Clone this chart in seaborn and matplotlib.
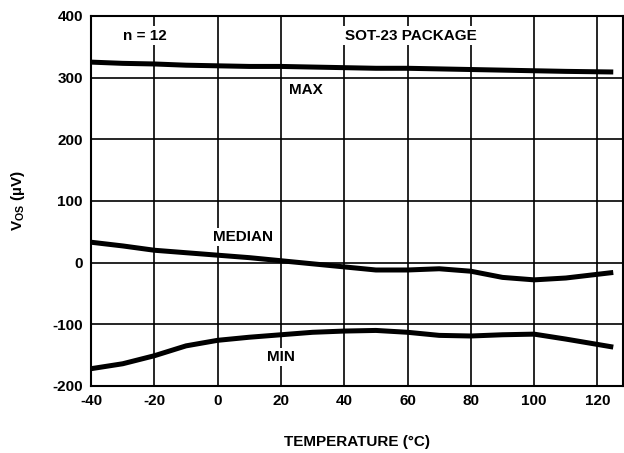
import matplotlib
matplotlib.use("Agg")
import matplotlib.pyplot as plt
import seaborn as sns
import pandas as pd

temps = [-40, -30, -20, -10, 0, 10, 20, 30, 40, 50, 60, 70, 80, 90, 100, 110, 125]
vos_max = [325, 323, 322, 320, 319, 318, 318, 317, 316, 315, 315, 314, 313, 312, 311, 310, 309]
vos_median = [33, 27, 20, 16, 12, 8, 3, -2, -7, -12, -12, -10, -14, -24, -28, -25, -16]
vos_min = [-172, -164, -151, -135, -126, -121, -117, -113, -111, -110, -113, -118, -119, -117, -116, -124, -137]

sns.set_theme(style="white")
plt.rcParams['font.family'] = ['Liberation Sans', 'DejaVu Sans']
plt.rcParams['mathtext.fontset'] = 'custom'
plt.rcParams['mathtext.rm'] = 'Liberation Sans:bold'
plt.rcParams['mathtext.it'] = 'Liberation Sans:bold'
plt.rcParams['mathtext.default'] = 'rm'
plt.rcParams['axes.unicode_minus'] = False
plt.rcParams['text.color'] = 'black'
plt.rcParams['axes.labelcolor'] = 'black'
plt.rcParams['xtick.color'] = 'black'
plt.rcParams['ytick.color'] = 'black'

rows = []
for name, vals in [("MAX", vos_max), ("MEDIAN", vos_median), ("MIN", vos_min)]:
    for t, v in zip(temps, vals):
        rows.append({"temp": t, "vos": v, "series": name})
df = pd.DataFrame(rows)

fig = plt.figure(figsize=(6.24, 4.53), dpi=100)
ax = fig.add_axes([0.146, 0.148, 0.852, 0.817])
sns.lineplot(data=df, x="temp", y="vos", hue="series", units="series", estimator=None,
             palette={"MAX": "black", "MEDIAN": "black", "MIN": "black"},
             linewidth=3.6, legend=False, ax=ax, zorder=3)
for ln in ax.lines:
    ln.set_solid_joinstyle("round")
    ln.set_solid_capstyle("butt")

ax.set_xlim(-40, 128)
ax.set_ylim(-200, 400)
ax.set_xticks(range(-40, 121, 20))
ax.set_yticks(range(-200, 401, 100))
ax.grid(True, color="black", linewidth=1.2)
ax.tick_params(length=0, labelsize=11, pad=6)
for lbl in ax.get_xticklabels() + ax.get_yticklabels():
    lbl.set_fontweight("bold")
for s in ax.spines.values():
    s.set_color("black")
    s.set_linewidth(1.5)

ax.set_xlabel("TEMPERATURE (°C)", fontsize=11, fontweight="bold", labelpad=19)
ax.set_ylabel(r"V$_{OS}$ (µV)", fontsize=11, fontweight="bold", labelpad=18)

bb = dict(facecolor="white", edgecolor="none", pad=1.5)
kw = dict(ha="center", va="center", fontsize=11, fontweight="bold", bbox=bb, zorder=4, color="black")
ax.text(-23, 368, "n = 12", **kw)
ax.text(61, 368, "SOT-23 PACKAGE", **kw)
ax.text(28, 279, "MAX", **kw)
ax.text(8, 41, "MEDIAN", **kw)
ax.text(20, -153, "MIN", **kw)

fig.savefig("out.png", dpi=100)
